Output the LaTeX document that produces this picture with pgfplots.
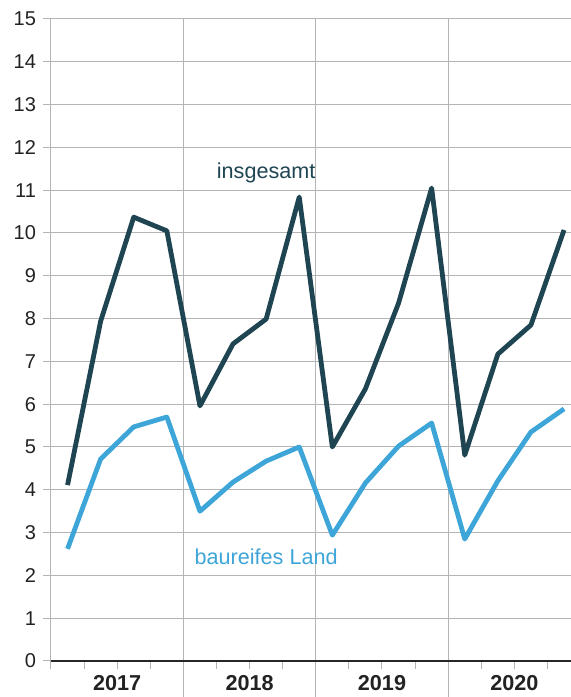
\documentclass[border=0pt]{standalone}
\usepackage{pgfplots}
\pgfplotsset{compat=1.18}
\usepackage{fontspec}
\setmainfont{Liberation Sans}
\definecolor{darkteal}{HTML}{1F4552}
\definecolor{lightblue}{HTML}{3EA5D8}
\definecolor{gridgray}{HTML}{B4B4B4}
\definecolor{txt}{HTML}{222222}
\begin{document}
\begin{tikzpicture}
\begin{axis}[
  at={(0,0)}, anchor=south west,
  scale only axis, width=260pt, height=321pt,
  xmin=-0.5, xmax=15.21, ymin=0, ymax=15,
  axis line style={draw=none},
  clip=false,
  xtick pos=bottom, ytick pos=left,
  ytick={0,1,...,15},
  ymajorgrids, grid style={gridgray, line width=0.5pt},
  tick align=outside,
  major tick length=4pt,
  tick style={gridgray, line width=0.5pt},
  yticklabel style={font=\fontsize{10}{12}\selectfont, text=txt},
  /pgf/number format/assume math mode=true,
  xtick={-0.5,0.5,...,15.5},
  xticklabels={},
  extra x ticks={1.5,5.5,9.5,13.5},
  extra x tick labels={2017,2018,2019,2020},
  extra x tick style={tick style={draw=none}, xticklabel style={font=\fontsize{10.8}{12}\selectfont\bfseries, text=txt, yshift=-2pt, inner sep=1pt}},
]
\draw[gridgray, line width=0.5pt] (axis cs:-0.5,0) -- (axis cs:-0.5,15);
\draw[gridgray, line width=0.5pt] (axis cs:3.5,15) -- ([yshift=-19pt]axis cs:3.5,0);
\draw[gridgray, line width=0.5pt] (axis cs:7.5,15) -- ([yshift=-19pt]axis cs:7.5,0);
\draw[gridgray, line width=0.5pt] (axis cs:11.5,15) -- ([yshift=-19pt]axis cs:11.5,0);
\draw[black!85, line width=0.9pt] (axis cs:-0.5,0) -- (axis cs:15.21,0);
\addplot[darkteal, line width=2.4pt, line join=round] coordinates {
(0,4.11) (1,7.94) (2,10.37) (3,10.05)
(4,5.96) (5,7.41) (6,7.99) (7,10.84)
(8,5.00) (9,6.36) (10,8.36) (11,11.05)
(12,4.81) (13,7.17) (14,7.85) (15,10.07)
};
\addplot[lightblue, line width=2.4pt, line join=round] coordinates {
(0,2.62) (1,4.72) (2,5.47) (3,5.70)
(4,3.50) (5,4.18) (6,4.67) (7,5.00)
(8,2.94) (9,4.16) (10,5.02) (11,5.56)
(12,2.85) (13,4.21) (14,5.35) (15,5.89)
};
\node[text=darkteal, font=\fontsize{10.8}{12}\selectfont] at (axis cs:6.0,11.4) {insgesamt};
\node[text=lightblue, font=\fontsize{10.8}{12}\selectfont] at (axis cs:6.0,2.43) {baureifes Land};
\end{axis}
\pgfresetboundingbox
\useasboundingbox (-25.5pt,-18pt) rectangle (260pt,330.5pt);
\end{tikzpicture}
\end{document}
